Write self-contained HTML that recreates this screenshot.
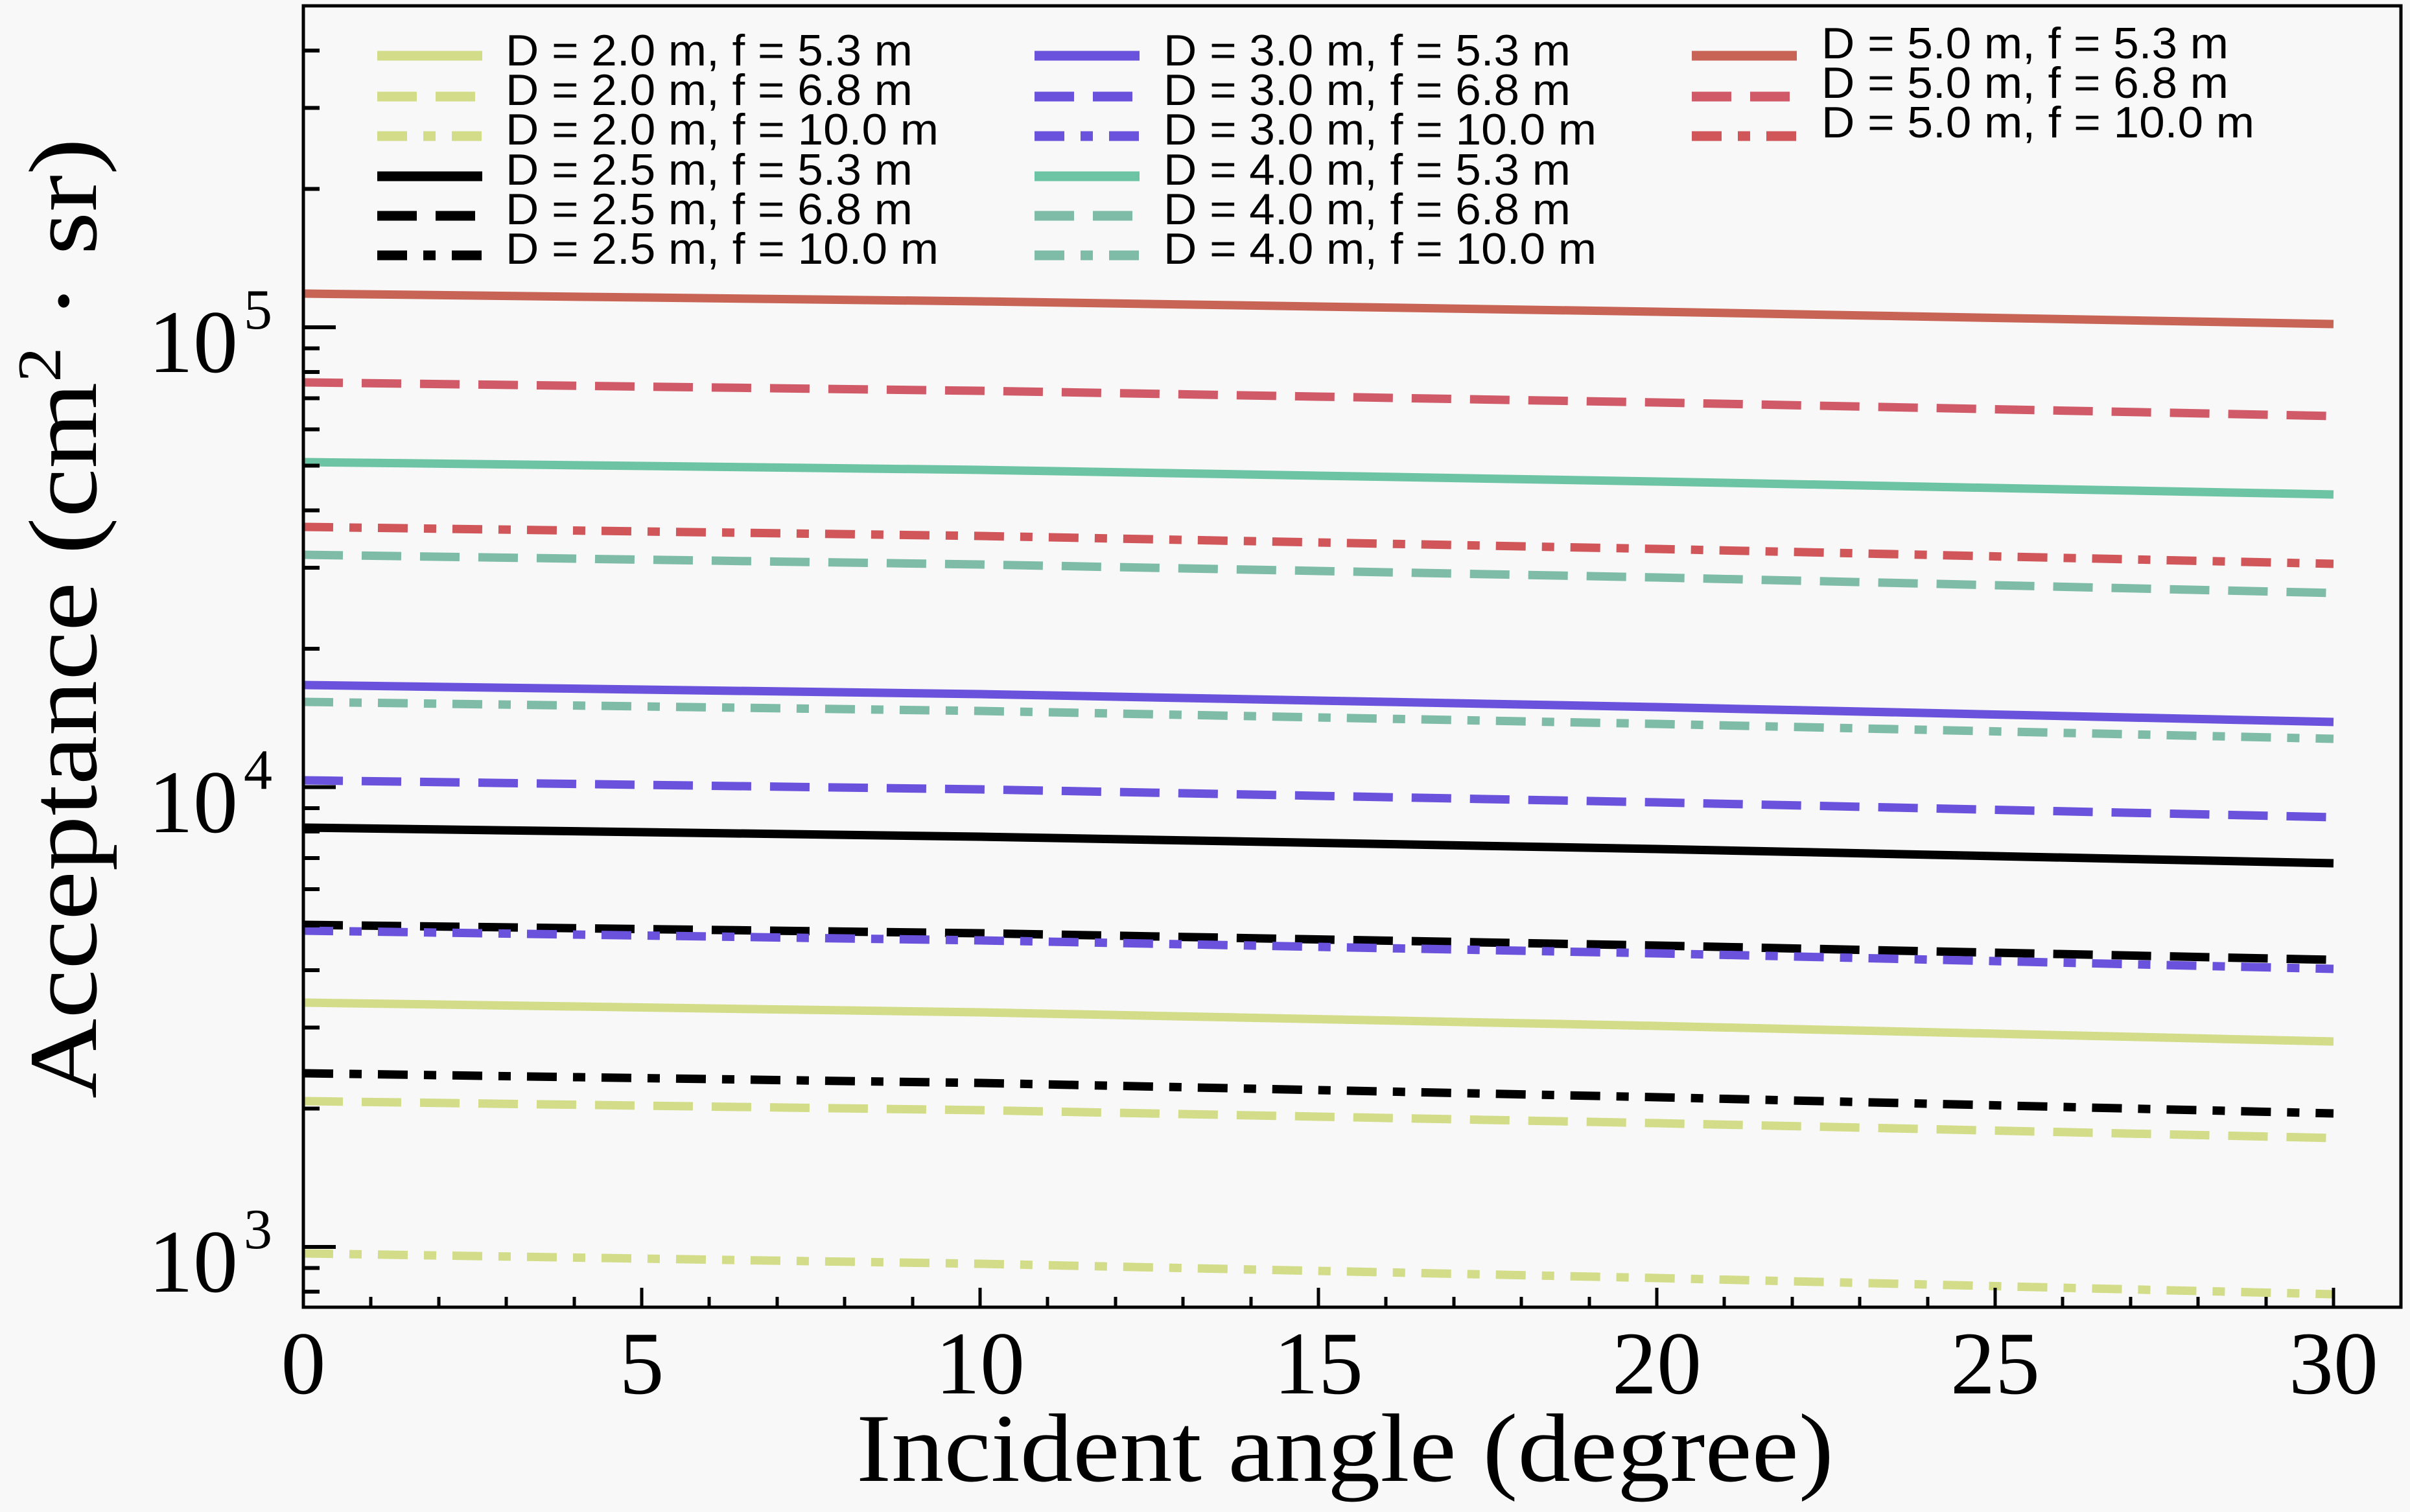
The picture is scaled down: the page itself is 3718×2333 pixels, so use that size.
<!DOCTYPE html>
<html><head><meta charset="utf-8"><style>html,body{margin:0;padding:0;background:#f8f8f8}svg{display:block}</style></head>
<body>
<svg width="3718" height="2333" viewBox="0 0 3718 2333" xmlns="http://www.w3.org/2000/svg">
<rect width="3718" height="2333" fill="#f8f8f8"/>
<g fill="none" stroke-width="13">
<polyline points="468,1547 1512,1562 2556,1583 3600,1607" stroke="#d3dc88"/>
<polyline points="468,1699 1512,1713 2556,1733 3600,1756" stroke="#d3dc88" stroke-dasharray="61,29"/>
<polyline points="468,1934 1512,1950 2556,1972 3600,1997" stroke="#d3dc88" stroke-dasharray="46,25,19,25"/>
<polyline points="468,1277 1512,1291 2556,1310 3600,1332" stroke="#000"/>
<polyline points="468,1427 1512,1440 2556,1459 3600,1481" stroke="#000" stroke-dasharray="61,29"/>
<polyline points="468,1656 1512,1671 2556,1693 3600,1718" stroke="#000" stroke-dasharray="46,25,19,25"/>
<polyline points="468,1057 1512,1071 2556,1091 3600,1114" stroke="#6a52dc"/>
<polyline points="468,1204 1512,1218 2556,1238 3600,1261" stroke="#6a52dc" stroke-dasharray="61,29"/>
<polyline points="468,1436 1512,1451 2556,1471 3600,1495" stroke="#6a52dc" stroke-dasharray="46,25,19,25"/>
<polyline points="468,713 1512,725 2556,743 3600,763" stroke="#6cc4a4"/>
<polyline points="468,856 1512,871 2556,891 3600,915" stroke="#7fbca8" stroke-dasharray="61,29"/>
<polyline points="468,1083 1512,1097 2556,1117 3600,1140" stroke="#7fbca8" stroke-dasharray="46,25,19,25"/>
<polyline points="468,453 1512,465 2556,481 3600,500" stroke="#c86455"/>
<polyline points="468,590 1512,603 2556,621 3600,642" stroke="#d05a68" stroke-dasharray="61,29"/>
<polyline points="468,813 1512,827 2556,847 3600,870" stroke="#d0565a" stroke-dasharray="46,25,19,25"/>
</g>
<rect x="468" y="9" width="3236" height="2008" fill="none" stroke="#000" stroke-width="5"/>
<path stroke="#000" stroke-width="5" fill="none" d="M468,2017v-30 M990,2017v-30 M1512,2017v-30 M2034,2017v-30 M2556,2017v-30 M3078,2017v-30 M3600,2017v-30
M572,2017v-16 M677,2017v-16 M781,2017v-16 M886,2017v-16 M1094,2017v-16 M1199,2017v-16 M1303,2017v-16 M1408,2017v-16 M1616,2017v-16 M1721,2017v-16 M1825,2017v-16 M1930,2017v-16 M2138,2017v-16 M2243,2017v-16 M2347,2017v-16 M2452,2017v-16 M2660,2017v-16 M2765,2017v-16 M2869,2017v-16 M2974,2017v-16 M3182,2017v-16 M3287,2017v-16 M3391,2017v-16 M3496,2017v-16"/>
<path stroke="#000" stroke-width="6" fill="none" d="M468,1924h50 M468,1214.5h50 M468,505h50
M468,1993h25 M468,1956.5h25 M468,1710.5h25 M468,1585.5h25 M468,1497h25 M468,1428h25 M468,1372h25 M468,1324h25 M468,1283h25 M468,1247h25
M468,1001h25 M468,876h25 M468,787.5h25 M468,718.5h25 M468,662.5h25 M468,614.5h25 M468,574h25 M468,537.5h25
M468,291.5h25 M468,166.5h25 M468,78h25"/>
<g font-family="Liberation Serif, serif" font-size="138" fill="#000" text-anchor="middle">
<text x="468" y="2150">0</text><text x="990" y="2150">5</text><text x="1512" y="2150">10</text>
<text x="2034" y="2150">15</text><text x="2556" y="2150">20</text><text x="3078" y="2150">25</text><text x="3600" y="2150">30</text>
</g>
<g font-family="Liberation Serif, serif" fill="#000" text-anchor="end">
<text x="367" y="1993" font-size="138">10</text><text x="420" y="1926" font-size="88">3</text>
<text x="367" y="1284" font-size="138">10</text><text x="420" y="1217" font-size="88">4</text>
<text x="367" y="574" font-size="138">10</text><text x="420" y="507" font-size="88">5</text>
</g>
<text x="1321" y="2285" font-family="Liberation Serif, serif" font-size="150" textLength="1508" lengthAdjust="spacingAndGlyphs">Incident angle (degree)</text>
<text transform="translate(148,1695) rotate(-90)" font-family="Liberation Serif, serif" font-size="150" textLength="1482" lengthAdjust="spacingAndGlyphs">Acceptance (cm<tspan font-size="95" dy="-55">2</tspan><tspan dy="55"> · sr)</tspan></text>
<g fill="none" stroke-width="15">
<path d="M582,86h162" stroke="#d3dc88"/>
<path d="M582,149h162" stroke="#d3dc88" stroke-dasharray="61,29"/>
<path d="M582,210h162" stroke="#d3dc88" stroke-dasharray="46,25,19,25"/>
<path d="M582,272h162" stroke="#000"/>
<path d="M582,333h162" stroke="#000" stroke-dasharray="61,29"/>
<path d="M582,394h162" stroke="#000" stroke-dasharray="46,25,19,25"/>
<path d="M1596,86h162" stroke="#6a52dc"/>
<path d="M1596,149h162" stroke="#6a52dc" stroke-dasharray="61,29"/>
<path d="M1596,210h162" stroke="#6a52dc" stroke-dasharray="46,25,19,25"/>
<path d="M1596,272h162" stroke="#6cc4a4"/>
<path d="M1596,333h162" stroke="#7fbca8" stroke-dasharray="61,29"/>
<path d="M1596,394h162" stroke="#7fbca8" stroke-dasharray="46,25,19,25"/>
<path d="M2610,86h162" stroke="#c86455"/>
<path d="M2610,149h162" stroke="#d05a68" stroke-dasharray="61,29"/>
<path d="M2610,210h162" stroke="#d0565a" stroke-dasharray="46,25,19,25"/>
</g>
<g font-family="Liberation Sans, sans-serif" font-size="68" fill="#000">
<text x="780" y="101" textLength="628" lengthAdjust="spacingAndGlyphs">D = 2.0 m, f = 5.3 m</text>
<text x="780" y="162" textLength="628" lengthAdjust="spacingAndGlyphs">D = 2.0 m, f = 6.8 m</text>
<text x="780" y="223" textLength="668" lengthAdjust="spacingAndGlyphs">D = 2.0 m, f = 10.0 m</text>
<text x="780" y="285" textLength="628" lengthAdjust="spacingAndGlyphs">D = 2.5 m, f = 5.3 m</text>
<text x="780" y="346" textLength="628" lengthAdjust="spacingAndGlyphs">D = 2.5 m, f = 6.8 m</text>
<text x="780" y="407" textLength="668" lengthAdjust="spacingAndGlyphs">D = 2.5 m, f = 10.0 m</text>
<text x="1795" y="101" textLength="628" lengthAdjust="spacingAndGlyphs">D = 3.0 m, f = 5.3 m</text>
<text x="1795" y="162" textLength="628" lengthAdjust="spacingAndGlyphs">D = 3.0 m, f = 6.8 m</text>
<text x="1795" y="223" textLength="668" lengthAdjust="spacingAndGlyphs">D = 3.0 m, f = 10.0 m</text>
<text x="1795" y="285" textLength="628" lengthAdjust="spacingAndGlyphs">D = 4.0 m, f = 5.3 m</text>
<text x="1795" y="346" textLength="628" lengthAdjust="spacingAndGlyphs">D = 4.0 m, f = 6.8 m</text>
<text x="1795" y="407" textLength="668" lengthAdjust="spacingAndGlyphs">D = 4.0 m, f = 10.0 m</text>
<text x="2810" y="90" textLength="628" lengthAdjust="spacingAndGlyphs">D = 5.0 m, f = 5.3 m</text>
<text x="2810" y="151" textLength="628" lengthAdjust="spacingAndGlyphs">D = 5.0 m, f = 6.8 m</text>
<text x="2810" y="212" textLength="668" lengthAdjust="spacingAndGlyphs">D = 5.0 m, f = 10.0 m</text>
</g>
</svg>
</body></html>
